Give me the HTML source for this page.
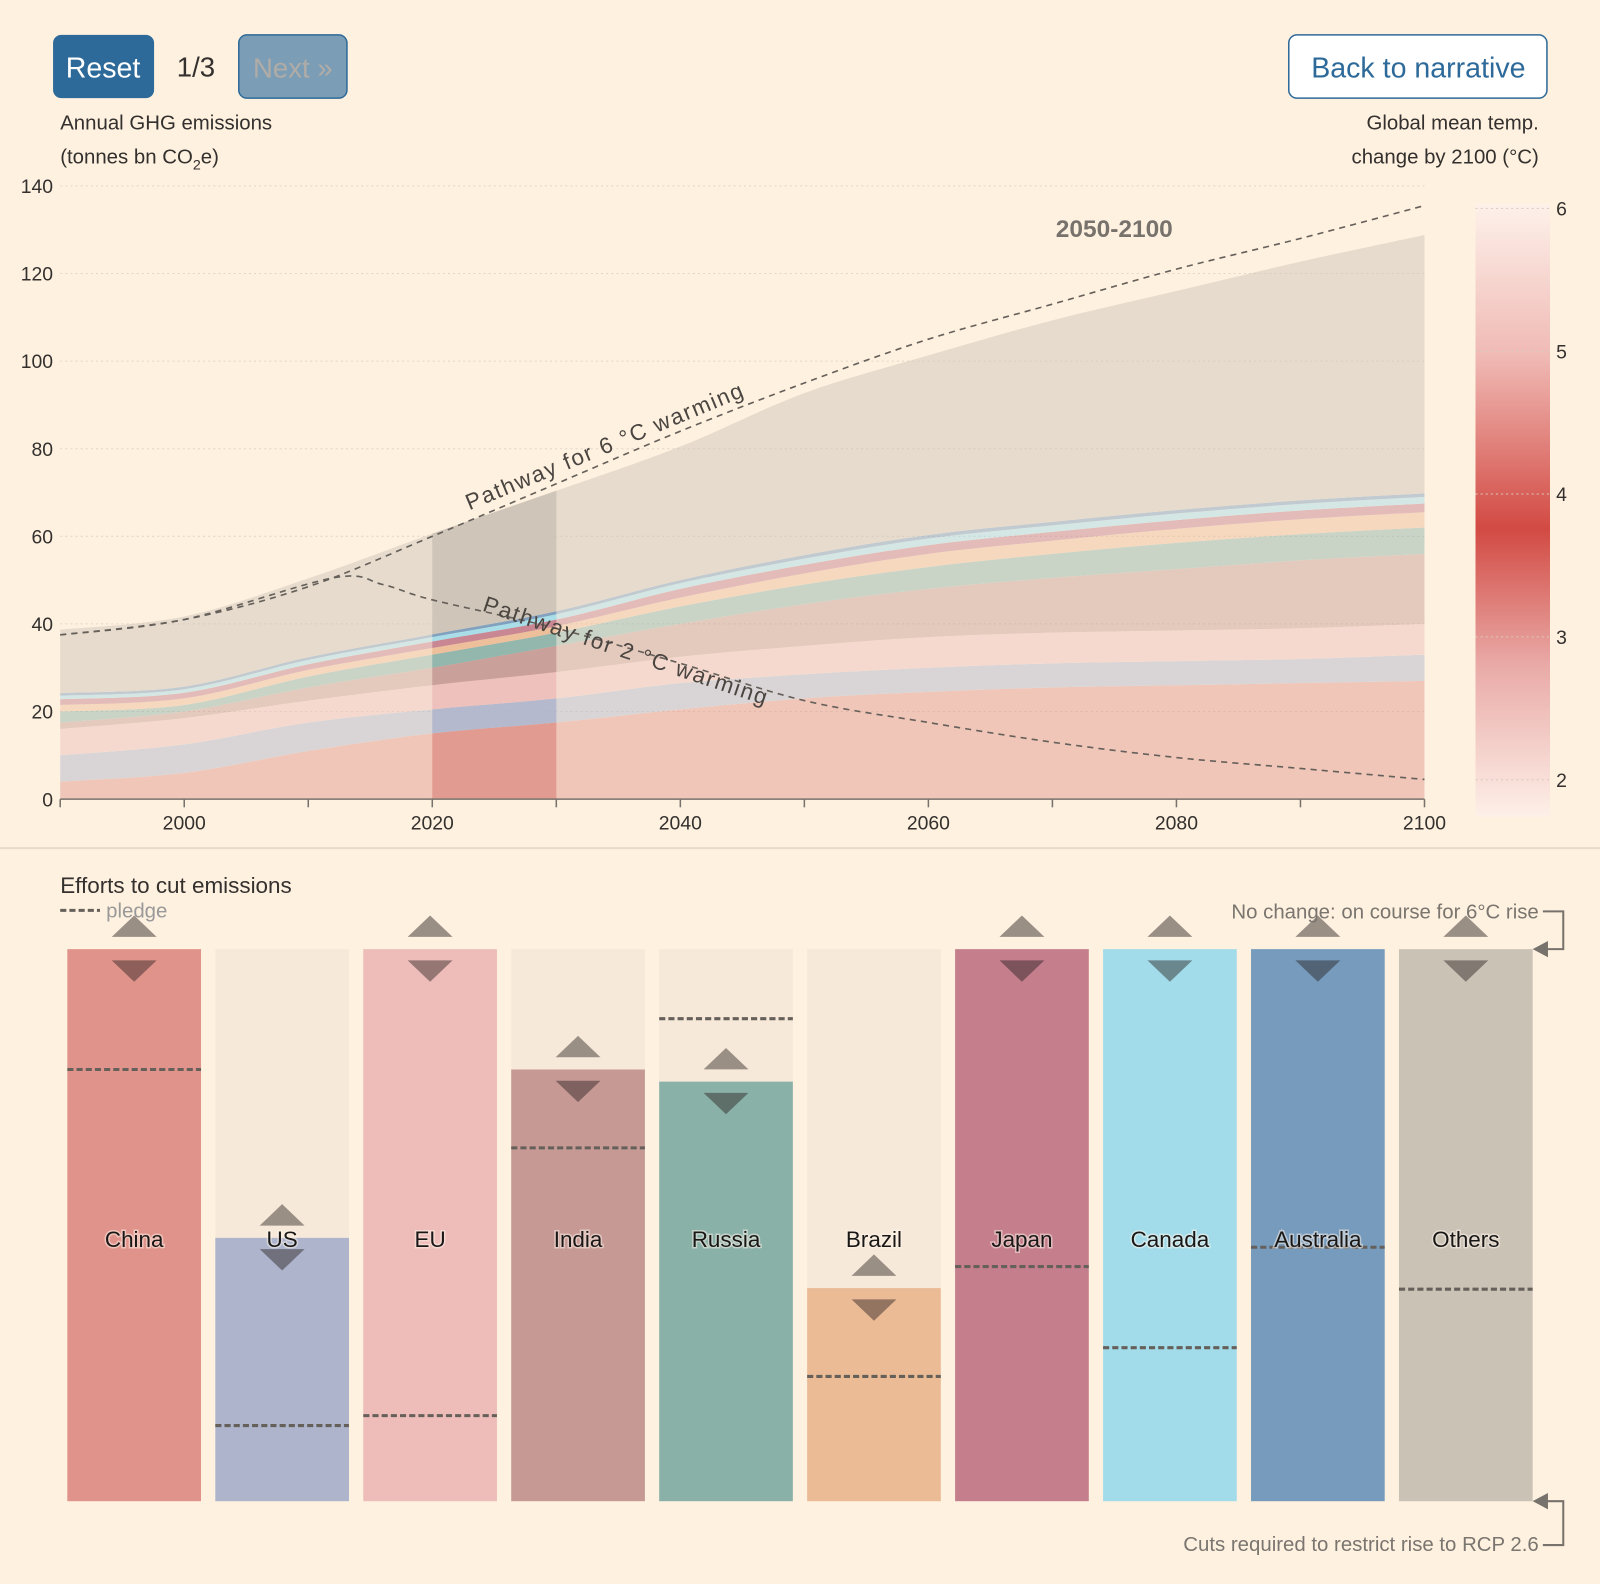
<!DOCTYPE html>
<html><head><meta charset="utf-8"><style>
html,body{margin:0;padding:0;background:#fef1e0;}
svg{display:block;font-family:"Liberation Sans",sans-serif;}
</style></head><body>
<svg id="s" width="1600" height="1584" viewBox="0 0 1568 1552" xmlns="http://www.w3.org/2000/svg">
<rect width="1568" height="1552" fill="#fef1e0"/>
<g><rect x="52" y="34" width="99" height="62" rx="8" fill="#2e6a99"/><text x="101" y="76" font-size="28" fill="#fff" text-anchor="middle">Reset</text></g>
<text x="192" y="75" font-size="27" fill="#33302e" text-anchor="middle">1/3</text>
<g><rect x="234" y="34" width="106" height="62" rx="8" fill="#7b9db6" stroke="#2e6a99" stroke-width="1.5"/><text x="287" y="76" font-size="27" fill="#b1aca6" text-anchor="middle">Next »</text></g>
<g><rect x="1263" y="34" width="253" height="62" rx="8" fill="#fff" stroke="#2e6a99" stroke-width="1.5"/><text x="1390" y="76" font-size="28" fill="#2e6a99" text-anchor="middle">Back to narrative</text></g>
<text x="59" y="127" font-size="20" fill="#33302e">Annual GHG emissions</text>
<text x="59" y="160" font-size="20" fill="#33302e">(tonnes bn CO<tspan font-size="14" dy="6">2</tspan><tspan dy="-6">e)</tspan></text>
<text x="1508" y="127" font-size="20" fill="#33302e" text-anchor="end">Global mean temp.</text>
<text x="1508" y="160" font-size="20" fill="#33302e" text-anchor="end">change by 2100 (°C)</text>
<defs>
<linearGradient id="cb" x1="0" y1="0" x2="0" y2="1">
<stop offset="0" stop-color="#fdf1ea"/><stop offset="0.25" stop-color="#f0b9b4"/><stop offset="0.53" stop-color="#d24a43"/><stop offset="0.75" stop-color="#e9a9a6"/><stop offset="1" stop-color="#fdf0e8"/></linearGradient>
<clipPath id="band"><rect id="bandRect" x="0" y="0" width="0" height="1000"/></clipPath>
</defs>
<g id="chart"></g>
<line x1="0" y1="831" x2="1568" y2="831" stroke="#eadbc9" stroke-width="2"/>
<text x="59" y="875" font-size="22" fill="#33302e">Efforts to cut emissions</text>
<line x1="59" y1="892" x2="98" y2="892" stroke="#66605a" stroke-width="3" stroke-dasharray="6,3"/>
<text x="104" y="899" font-size="20" fill="#999">pledge</text>
<g id="bars"></g>
<text x="1508" y="900" font-size="20" fill="#7a756f" text-anchor="end">No change: on course for 6°C rise</text>
<path d="M1512 893 H1532 V930 H1512" fill="none" stroke="#77736c" stroke-width="2"/>
<polygon points="1502,930 1517,922 1517,938" fill="#77736c"/>
<text x="1508" y="1520" font-size="20" fill="#7a756f" text-anchor="end">Cuts required to restrict rise to RCP 2.6</text>
<path d="M1512 1514 H1532 V1471 H1512" fill="none" stroke="#77736c" stroke-width="2"/>
<polygon points="1502,1471 1517,1463 1517,1479" fill="#77736c"/>
</svg>
<script>
const years=[1990,2000,2010,2020,2030,2040,2050,2060,2070,2080,2090,2100];
const countries=["China","US","EU","India","Russia","Brazil","Japan","Canada","Australia","Others"];
const china=[4,6,11,15,17.5,20.5,23,24.5,25.5,26,26.5,27];
const us=[6,6.5,6.5,5.5,5.5,6,5.5,5.5,5.5,5.5,5.5,6];
const eu=[6,6,5,5.5,6,6,6.5,7,7,7,7,7];
const india=[1.5,1.5,3,4,6,7.5,9.5,11,12.5,14,15.5,16];
const russia=[2.5,1.5,2.5,3,3,4,4.5,5,5.5,6,6,6];
const brazil=[1.5,1.5,1.5,1.5,1.5,2,2.5,3,3,3.2,3.4,3.5];
const japan=[1.3,1.3,1.3,1.5,1.5,2,2,2,2,2,2,2];
const canada=[0.8,0.8,1,1,1.2,1.3,1.4,1.5,1.5,1.5,1.5,1.5];
const australia=[0.6,0.6,0.6,0.6,0.7,0.7,0.8,0.8,0.8,0.8,0.8,0.8];
const others=[14.5,16,18,23,27.5,30.5,37,41,46,50,54.5,59];
const path6Years=[1990,2000,2010,2020,2030,2040,2050,2060,2070,2080,2090,2100];
const path6=[37.5,41,48.5,60,72,84,95,105,113,121,128,135.5];
const path2Years=[1990,2000,2012,2016,2020,2030,2040,2050,2060,2070,2080,2090,2100];
const path2=[37.5,41,50.5,49,45.5,39,31,22.5,17.5,13,9.5,7,4.5];
const yTicks=[0,20,40,60,80,100,120,140];
const xTickLabels=[2000,2020,2040,2060,2080,2100];
const cbTicks=[2,3,4,5,6];
const effortNow=[0,0.523,0,0.218,0.240,0.614,0,0,0,0];
const effortPledge=[0.218,0.863,0.845,0.360,0.126,0.774,0.575,0.722,0.540,0.616];
const colors=["#e0938a","#adb4cc","#eebdb9","#c69994","#8ab1a8","#ebbb96","#c47e8c","#a2dcea","#769bbd","#cbc2b6"];
const layers=[china,us,eu,india,russia,brazil,japan,canada,australia,others];

const NS="http://www.w3.org/2000/svg";
const X=y=>59+(y-1990)*(1396-59)/110;
const Y=v=>783-v*(783-182)/140;
function mk(tag,attrs,parent){const e=document.createElementNS(NS,tag);for(const k in attrs)e.setAttribute(k,attrs[k]);parent.appendChild(e);return e;}
function smooth(pts){let d="M"+pts[0][0]+","+pts[0][1];for(let i=0;i<pts.length-1;i++){const p0=pts[i-1]||pts[i],p1=pts[i],p2=pts[i+1],p3=pts[i+2]||p2;const c1=[p1[0]+(p2[0]-p0[0])/6,p1[1]+(p2[1]-p0[1])/6],c2=[p2[0]-(p3[0]-p1[0])/6,p2[1]-(p3[1]-p1[1])/6];d+="C"+c1+" "+c2+" "+p2;}return d;}
const g=document.getElementById("chart");
yTicks.forEach(v=>{
 const l=mk("line",{x1:59,x2:1396,y1:Y(v),y2:Y(v),stroke:"#e3d6c8","stroke-dasharray":"2,3"},g);
 
 const t=mk("text",{x:52,y:Y(v)+7,"font-size":19,fill:"#33302e","text-anchor":"end"},g);t.textContent=v;
 
});
const cum=years.map(()=>0);
const stacks=layers.map(arr=>{const lo=cum.slice();arr.forEach((v,i)=>cum[i]+=v);return {lo,hi:cum.slice()};});
const bandX0=X(2020),bandX1=X(2030);
document.getElementById("bandRect").setAttribute("x",bandX0);
document.getElementById("bandRect").setAttribute("width",bandX1-bandX0);
function areaD(s){const top=years.map((y,i)=>[X(y),Y(s.hi[i])]);const bot=years.map((y,i)=>[X(y),Y(s.lo[i])]).reverse();
 let d=smooth(top);const bd=smooth(bot);d+=" L"+bd.slice(1)+" Z";return d;}
const gl=mk("g",{opacity:0.45},g);
const gb=mk("g",{"clip-path":"url(#band)",opacity:0.85},g);
stacks.forEach((s,k)=>{
 const a=mk("path",{d:areaD(s),fill:colors[k]},gl);
 
 const b=mk("path",{d:areaD(s),fill:colors[k]},gb);
 
});
const ax=mk("line",{x1:59,x2:1396,y1:783,y2:783,stroke:"#77736c","stroke-width":1.5},g);

for(let y=1990;y<=2100;y+=10){const t=mk("line",{x1:X(y),x2:X(y),y1:783,y2:791,stroke:"#77736c","stroke-width":1.5},g);}
xTickLabels.forEach(y=>{const t=mk("text",{x:X(y),y:813,"font-size":19,fill:"#33302e","text-anchor":"middle"},g);t.textContent=y;});
const p6=mk("path",{d:smooth(path6Years.map((y,i)=>[X(y),Y(path6[i])])),fill:"none",stroke:"#66605a","stroke-width":1.6,"stroke-dasharray":"6,5"},g);

const p2=mk("path",{d:smooth(path2Years.map((y,i)=>[X(y),Y(path2[i])])),fill:"none",stroke:"#66605a","stroke-width":1.6,"stroke-dasharray":"6,5"},g);

const t6=mk("text",{x:0,y:0,"font-size":22,fill:"#4a4540",textLength:292,lengthAdjust:"spacing",transform:"translate(460,500) rotate(-22.5)"},g);t6.textContent="Pathway for 6 °C warming";

const t2=mk("text",{x:0,y:0,"font-size":22,fill:"#4a4540",textLength:292,lengthAdjust:"spacing",transform:"translate(472,598) rotate(18.5)"},g);t2.textContent="Pathway for 2 °C warming";

const per=mk("text",{x:1092,y:232,"font-size":24,"font-weight":"bold",fill:"#77726c","text-anchor":"middle"},g);per.textContent="2050-2100";

const CY=v=>764-(v-2)*140;
const cb=mk("rect",{x:1446,y:200,width:73,height:600,fill:"url(#cb)"},g);
cbTicks.forEach(v=>{const l=mk("line",{x1:1446,x2:1519,y1:CY(v),y2:CY(v),stroke:"#d9c9bb","stroke-dasharray":"2,3"},g);
 const t=mk("text",{x:1525,y:CY(v)+7,"font-size":19,fill:"#33302e"},g);t.textContent=v;});
const gB=document.getElementById("bars");
const TOP=930,BOT=1471,H=BOT-TOP;
countries.forEach((c,k)=>{
 const x=66+k*145,w=131,cx=x+w/2;
 const bg=mk("rect",{x:x,y:TOP,width:w,height:H,fill:"#f7e9d9"},gB);
 const top=TOP+effortNow[k]*H;
 const b=mk("rect",{x:x,y:top,width:w,height:BOT-top,fill:colors[k]},gB);
 const py=TOP+effortPledge[k]*H;
 const pl=mk("line",{x1:x,x2:x+w,y1:py,y2:py,stroke:"#66605a","stroke-width":3,"stroke-dasharray":"6,3"},gB);
 const up=mk("polygon",{points:`${cx-22},${top-12} ${cx+22},${top-12} ${cx},${top-33}`,fill:"#9a8f85"},gB);
 const dn=mk("polygon",{points:`${cx-22},${top+11} ${cx+22},${top+11} ${cx},${top+32}`,fill:"rgba(40,30,30,0.45)"},gB);
 const t=mk("text",{x:cx,y:1222,"font-size":22,fill:"#1a1817","text-anchor":"middle",stroke:"rgba(255,245,235,0.5)","stroke-width":3,"paint-order":"stroke"},gB);t.textContent=c;
});
</script>
</body></html>
